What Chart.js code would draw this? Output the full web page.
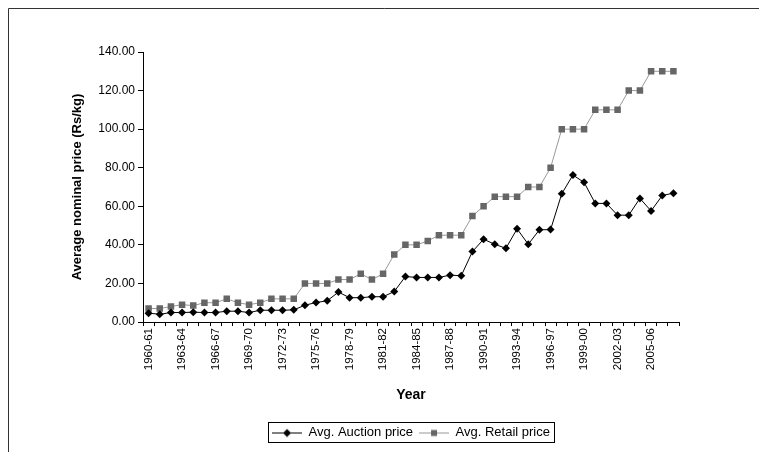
<!DOCTYPE html>
<html>
<head>
<meta charset="utf-8">
<script src="https://cdn.jsdelivr.net/npm/chart.js@4/dist/chart.umd.min.js"></script>
<style>
  html, body { margin: 0; padding: 0; background: #fff; }
  #wrap { width: 759px; height: 452px; }
</style>
</head>
<body>
<div id="wrap"><canvas id="chart" width="759" height="452"></canvas></div>
<script>
// Crop years (financial years)
const years = [
  '1960-61','1961-62','1962-63','1963-64','1964-65','1965-66','1966-67','1967-68',
  '1968-69','1969-70','1970-71','1971-72','1972-73','1973-74','1974-75','1975-76',
  '1976-77','1977-78','1978-79','1979-80','1980-81','1981-82','1982-83','1983-84',
  '1984-85','1985-86','1986-87','1987-88','1988-89','1989-90','1990-91','1991-92',
  '1992-93','1993-94','1994-95','1995-96','1996-97','1997-98','1998-99','1999-00',
  '2000-01','2001-02','2002-03','2003-04','2004-05','2005-06','2006-07','2007-08'
];

// Average nominal prices, Rs/kg
const auctionPrice = [
  4.6, 4.0, 4.9, 4.9, 5.1, 4.9, 4.9, 5.6, 5.6, 4.9,
  6.1, 6.1, 6.1, 6.3, 8.7, 10.1, 11.0, 15.5, 12.6, 12.6,
  13.1, 13.1, 15.8, 23.6, 23.1, 23.1, 23.1, 24.3, 24.0, 36.5,
  42.9, 40.3, 38.2, 48.3, 40.3, 47.8, 47.9, 66.5, 76.2, 72.4,
  61.5, 61.5, 55.4, 55.4, 64.1, 57.6, 65.6, 66.8
];
const retailPrice = [
  7, 7, 8, 9, 8.5, 10, 10, 12, 10, 9,
  10, 12, 12, 12, 20, 20, 20, 22, 22, 25,
  22, 25, 35, 40, 40, 42, 45, 45, 45, 55,
  60, 65, 65, 65, 70, 70, 80, 100, 100, 100,
  110, 110, 110, 120, 120, 130, 130, 130
];

const seriesNames = ['Avg. Auction price', 'Avg. Retail price'];
const yAxisTitle = 'Average nominal price (Rs/kg)';
const xAxisTitle = 'Year';
const yMin = 0, yMax = 140, yStep = 20;
const labelEvery = 3;

const FONT = '"Liberation Sans", Arial, Helvetica, sans-serif';
Chart.defaults.font.family = FONT;
Chart.defaults.color = '#000';

// Small line+marker swatch for the legend entries
function swatch(lineColor, markerColor, shape) {
  const c = document.createElement('canvas');
  c.width = 30; c.height = 10;
  const g = c.getContext('2d');
  g.strokeStyle = lineColor; g.lineWidth = 1;
  g.beginPath(); g.moveTo(0, 5.5); g.lineTo(30, 5.5); g.stroke();
  g.fillStyle = markerColor;
  if (shape === 'diamond') {
    g.beginPath(); g.moveTo(15, 1.5); g.lineTo(19, 5.5); g.lineTo(15, 9.5); g.lineTo(11, 5.5); g.closePath(); g.fill();
  } else {
    g.fillRect(12, 2.5, 6, 6);
  }
  return c;
}
const swatches = [swatch('#000', '#000', 'diamond'), swatch('#999', '#666', 'square')];

// Frame around the whole chart and box around the legend
const framePlugin = {
  id: 'frame',
  afterDraw(chart) {
    const ctx = chart.ctx;
    ctx.save();
    ctx.strokeStyle = '#333';
    ctx.lineWidth = 1;
    ctx.beginPath();
    ctx.moveTo(8.5, 460); ctx.lineTo(8.5, 8.5); ctx.lineTo(770, 8.5);
    ctx.stroke();
    const hb = chart.legend && chart.legend.legendHitBoxes;
    if (hb && hb.length) {
      let l = Infinity, r = -Infinity, t = Infinity, b = -Infinity;
      hb.forEach(h => { l = Math.min(l, h.left); r = Math.max(r, h.left + h.width); t = Math.min(t, h.top); b = Math.max(b, h.top + h.height); });
      ctx.strokeStyle = '#000';
      ctx.strokeRect(Math.round(l - 4) + 0.5, Math.round(t - 4) + 0.5, Math.round(r - l + 8), Math.round(b - t + 7));
    }
    ctx.restore();
  }
};

new Chart(document.getElementById('chart'), {
  type: 'line',
  data: {
    labels: years,
    datasets: [
      {
        label: seriesNames[0],
        data: auctionPrice,
        borderColor: '#000',
        backgroundColor: '#000',
        borderWidth: 1,
        pointStyle: 'rectRot',
        pointRadius: 4,
        pointBackgroundColor: '#000',
        pointBorderColor: '#000',
        pointBorderWidth: 0,
        tension: 0
      },
      {
        label: seriesNames[1],
        data: retailPrice,
        borderColor: '#999',
        backgroundColor: '#666',
        borderWidth: 1,
        pointStyle: 'rect',
        pointRadius: 4.6,
        pointBackgroundColor: '#666',
        pointBorderColor: '#666',
        pointBorderWidth: 0,
        tension: 0
      }
    ]
  },
  options: {
    responsive: false,
    animation: false,
    devicePixelRatio: 1,
    layout: { padding: { left: 0, right: 80, top: 52, bottom: 3 } },
    plugins: {
      tooltip: { enabled: false },
      legend: {
        position: 'bottom',
        fullSize: false,
        labels: {
          usePointStyle: true,
          pointStyleWidth: 30,
          padding: 6,
          font: { size: 13 },
          color: '#000',
          generateLabels(chart) {
            return chart.data.datasets.map((ds, i) => ({
              text: ds.label,
              pointStyle: swatches[i],
              fillStyle: 'transparent',
              strokeStyle: 'transparent',
              lineWidth: 0,
              datasetIndex: i,
              hidden: false
            }));
          }
        }
      }
    },
    scales: {
      x: {
        offset: true,
        grid: { offset: true, drawOnChartArea: false, drawTicks: true, tickLength: 4, color: '#000' },
        border: { display: true, color: '#000', width: 1 },
        ticks: {
          autoSkip: false,
          minRotation: 90,
          maxRotation: 90,
          padding: 2,
          font: { size: 11.5 },
          color: '#000',
          callback(value, index) { return index % labelEvery === 0 ? this.getLabelForValue(value) : ''; }
        },
        title: { display: true, text: xAxisTitle, font: { size: 14, weight: 'bold' }, color: '#000', padding: { top: 4, bottom: 16 } },
        afterFit(scale) { scale.height = 98; }
      },
      y: {
        min: yMin,
        max: yMax,
        grid: { drawOnChartArea: false, drawTicks: true, tickLength: 5, color: '#000' },
        border: { display: true, color: '#000', width: 1 },
        ticks: {
          stepSize: yStep,
          padding: 3,
          font: { size: 12 },
          color: '#000',
          callback(v) { return Number(v).toFixed(2); }
        },
        title: { display: true, text: yAxisTitle, font: { size: 13, weight: 'bold' }, color: '#000', padding: { top: 70, bottom: 4 } },
        afterFit(scale) { scale.width = 143; }
      }
    }
  },
  plugins: [framePlugin]
});
</script>
</body>
</html>
